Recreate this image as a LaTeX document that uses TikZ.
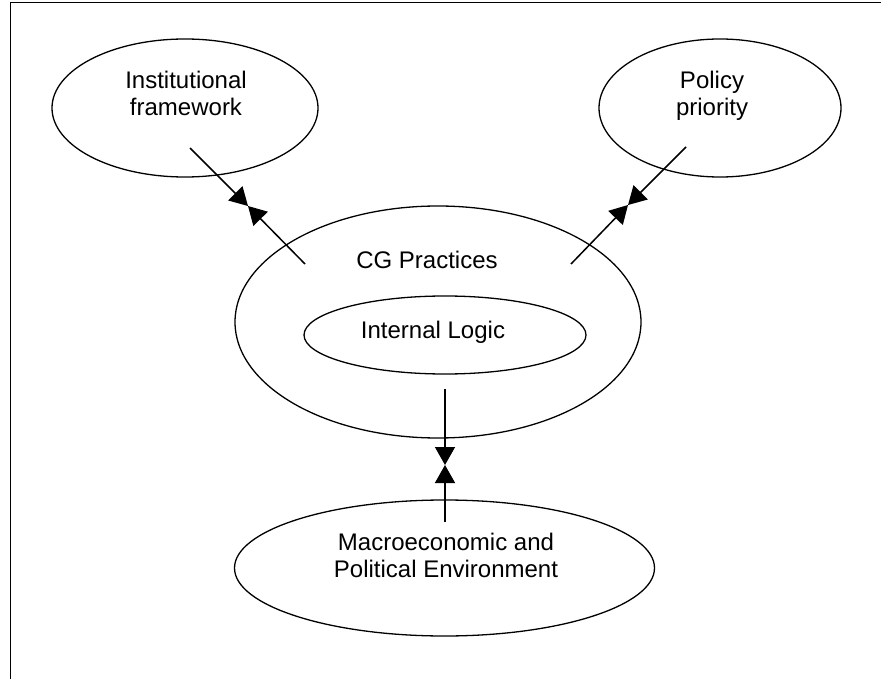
\documentclass[tikz,border=0pt]{standalone}
\usepackage{fontspec}
\setmainfont{Liberation Sans}
\usetikzlibrary{shapes.geometric,arrows.meta}
\begin{document}
\begin{tikzpicture}[x=1pt,y=-1pt,
  ell/.style={draw,ellipse,line width=1.3pt,inner sep=0pt},
  lbl/.style={font=\fontsize{24}{27}\selectfont,anchor=base,inner sep=0pt,align=center},
  arr/.style={line width=1.5pt,-{Triangle[length=18pt,width=20pt]}}]
\useasboundingbox (0,0) rectangle (881,679);
\draw[line width=1.5pt] (10.5,679) -- (10.5,2.5) -- (881,2.5);
% ellipses
\node[ell,minimum width=266pt,minimum height=138pt] (inst) at (185,108) {};
\node[ell,minimum width=242pt,minimum height=138pt] (pol) at (720,108) {};
\node[ell,minimum width=406pt,minimum height=232pt] (cg) at (438,322) {};
\node[ell,minimum width=282pt,minimum height=78pt] (il) at (445,335) {};
\node[ell,minimum width=420pt,minimum height=136pt] (mac) at (444.5,568) {};
% labels
\node[lbl] (instT1) at (186,89) {Institutional};
\node[lbl] (instT2) at (186,116) {framework};
\node[lbl] (polT1) at (712,89) {Policy};
\node[lbl] (polT2) at (712,116) {priority};
\node[lbl] (cgT) at (427,269) {CG Practices};
\node[lbl] (ilT) at (433,338) {Internal Logic};
\node[lbl] (macT1) at (446,550) {Macroeconomic and};
\node[lbl] (macT2) at (446,577) {Political Environment};
% connector end points
\coordinate (tl) at (248,206);
\coordinate (tlA) at (190,148);
\coordinate (tlB) at (305,264);
\coordinate (tr) at (628,205);
\coordinate (trA) at (686,147);
\coordinate (trB) at (571,264);
\coordinate (bm) at (445,465);
\coordinate (bmA) at (445,389);
\coordinate (bmB) at (445,522);
% connectors
\draw[arr] (tlA) -- (tl);
\draw[arr] (tlB) -- (tl);
\draw[arr] (trA) -- (tr);
\draw[arr] (trB) -- (tr);
\draw[arr] (bmA) -- (bm);
\draw[arr] (bmB) -- (bm);
\end{tikzpicture}
\end{document}
